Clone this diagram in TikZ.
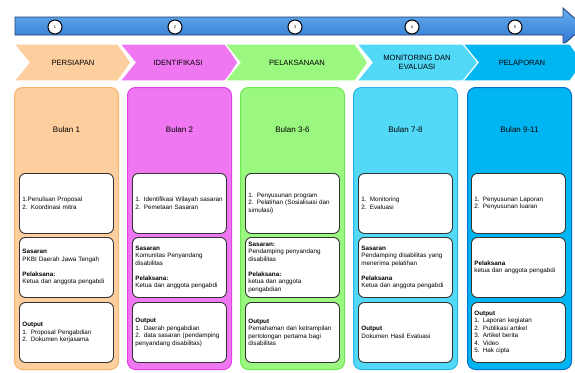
\documentclass[tikz,border=0pt]{standalone}
\usepackage{fontspec}
\setmainfont{Liberation Sans}
\definecolor{pfill}{HTML}{FDCE9E}\definecolor{pdraw}{HTML}{F8B36C}
\definecolor{mfill}{HTML}{F077F2}\definecolor{mdraw}{HTML}{E23FE6}
\definecolor{gfill}{HTML}{9AF77F}\definecolor{gdraw}{HTML}{6EE852}
\definecolor{cfill}{HTML}{52D9F8}\definecolor{cdraw}{HTML}{2BB4EC}
\definecolor{bfill}{HTML}{00B6F2}\definecolor{bdraw}{HTML}{0A6FCC}
\definecolor{bartop}{HTML}{66AEF0}\definecolor{barbot}{HTML}{2F76D0}
\definecolor{barline}{HTML}{1E3C70}\definecolor{boxline}{HTML}{333333}
\begin{document}
\begin{tikzpicture}[x=1pt,y=-1pt,
  chev/.style={draw=white,line width=1.2pt},
  chevtext/.style={font=\fontsize{7.6}{8.6}\selectfont,align=center,inner sep=0pt},
  colbody/.style={rounded corners=8pt,line width=1pt,minimum width=104pt,minimum height=282pt,anchor=north west,inner sep=0pt},
  bulan/.style={font=\fontsize{8}{9}\selectfont,inner sep=0pt},
  inbox/.style={draw=boxline,fill=white,rounded corners=6pt,line width=0.9pt,anchor=north west,text width=88pt,inner sep=3pt,minimum height=60pt,align=left,font=\fontsize{6.3}{7.5}\selectfont},
  num/.style={circle,draw=black,fill=white,line width=1pt,minimum size=14pt,inner sep=0pt,font=\fontsize{4}{4}\selectfont}]
\useasboundingbox (0,0) rectangle (575,372);
% timeline arrow
\draw[draw=barline,line width=0.8pt,top color=bartop,bottom color=barbot]
  (15,17) -- (563,17) -- (563,8) -- (584,26.5) -- (563,45) -- (563,35) -- (15,35) -- cycle;
\node[num] (n1) at (55,27) {1};
\node[num] (n2) at (175,27) {2};
\node[num] (n3) at (295,27) {3};
\node[num] (n4) at (412,27) {4};
\node[num] (n5) at (515,27) {5};
% chevrons
\fill[chev,fill=pfill] (14,44) -- (118,44) -- (131,62.5) -- (118,81) -- (14,81) -- (29,62.5) -- cycle;
\fill[chev,fill=mfill] (120,44) -- (226,44) -- (238,62.5) -- (226,81) -- (120,81) -- (135,62.5) -- cycle;
\fill[chev,fill=gfill] (225,44) -- (355,44) -- (368,62.5) -- (355,81) -- (225,81) -- (240,62.5) -- cycle;
\fill[chev,fill=cfill] (357,44) -- (466,44) -- (479,62.5) -- (466,81) -- (357,81) -- (372,62.5) -- cycle;
\fill[chev,fill=bfill] (463,44) -- (570,44) -- (583,62.5) -- (570,81) -- (463,81) -- (478,62.5) -- cycle;
\node[chevtext] (h1) at (73,62.5) {PERSIAPAN};
\node[chevtext] (h2) at (178,62.5) {IDENTIFIKASI};
\node[chevtext] (h3) at (297,62.5) {PELAKSANAAN};
\node[chevtext] (h4) at (417,62.5) {MONITORING DAN\\EVALUASI};
\node[chevtext] (h5) at (522,62.5) {PELAPORAN};
% columns
\node[colbody,fill=pfill,draw=pdraw] (c1) at (14,87) {};
\node[colbody,fill=mfill,draw=mdraw] (c2) at (127,87) {};
\node[colbody,fill=gfill,draw=gdraw] (c3) at (240,87) {};
\node[colbody,fill=cfill,draw=cdraw] (c4) at (353,87) {};
\node[colbody,fill=bfill,draw=bdraw] (c5) at (467,87) {};
\node[bulan] (b1) at ([yshift=-43pt]c1.north) {Bulan 1};
\node[bulan] (b2) at ([yshift=-43pt]c2.north) {Bulan 2};
\node[bulan] (b3) at ([yshift=-43pt]c3.north) {Bulan 3-6};
\node[bulan] (b4) at ([yshift=-43pt]c4.north) {Bulan 7-8};
\node[bulan] (b5) at ([yshift=-43pt]c5.north) {Bulan 9-11};
% column 1
\node[inbox] (a1) at (19,173) {1.Penulisan Proposal\\2. Koordinasi mitra};
\node[inbox] (a2) at (19,237) {\textbf{Sasaran}\\PKBI Daerah Jawa Tengah\\[7.5pt]\textbf{Pelaksana:}\\Ketua dan anggota pengabdi};
\node[inbox] (a3) at (19,302) {\textbf{Output}\\1. Proposal Pengabdian\\2. Dokumen kerjasama};
% column 2
\node[inbox] (d1) at (132,173) {1. Identifikasi Wilayah sasaran\\2. Pemetaan Sasaran};
\node[inbox] (d2) at (132,237) {\textbf{Sasaran}\\Komunitas Penyandang\\disabilitas\\[7.5pt]\textbf{Pelaksana:}\\Ketua dan anggota pengabdi};
\node[inbox] (d3) at (132,302) {\textbf{Output}\\1. Daerah pengabdian\\2. data sasaran (pendamping\\penyandang disabilitas)};
% column 3
\node[inbox] (e1) at (245,173) {1. Penyusunan program\\2. Pelatihan (Sosialisasi dan\\simulasi)};
\node[inbox] (e2) at (245,237) {\textbf{Sasaran:}\\Pendamping penyandang\\disabilitas\\[7.5pt]\textbf{Pelaksana:}\\ketua dan anggota\\pengabdian};
\node[inbox] (e3) at (245,302) {\textbf{Output}\\Pemahaman dan ketrampilan\\pertolongan pertama bagi\\disabilitas};
% column 4
\node[inbox] (f1) at (358,173) {1. Monitoring\\2. Evaluasi};
\node[inbox] (f2) at (358,237) {\textbf{Sasaran}\\Pendamping disabilitas yang\\menerima pelatihan\\[7.5pt]\textbf{Pelaksana}\\Ketua dan anggota pengabdi};
\node[inbox] (f3) at (358,302) {\textbf{Output}\\Dokumen Hasil Evaluasi};
% column 5
\node[inbox] (g1) at (471,173) {1. Penyusunan Laporan\\2. Penyusunan luaran};
\node[inbox] (g2) at (471,237) {\textbf{Pelaksana}\\ketua dan anggota pengabdi};
\node[inbox] (g3) at (471,302) {\textbf{Output}\\1. Laporan kegiatan\\2. Publikasi artikel\\3. Artikel berita\\4. Video\\5. Hak cipta};
\end{tikzpicture}
\end{document}
